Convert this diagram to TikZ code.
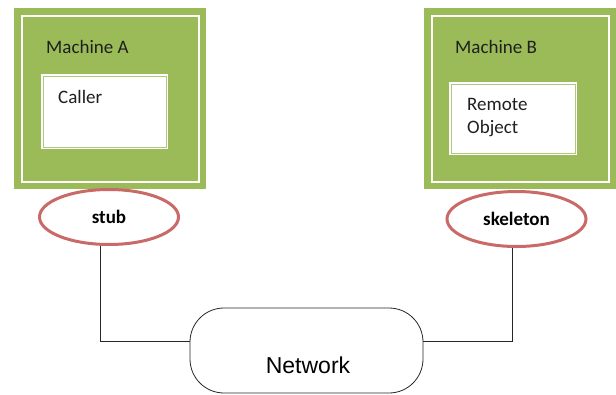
\documentclass[tikz,border=0pt]{standalone}
\usepackage{fontspec}
\setmainfont{Carlito}
\newfontfamily\arialfont{Liberation Sans}
\usetikzlibrary{shapes.geometric}
\definecolor{mgreen}{HTML}{9BBB59}
\definecolor{ered}{HTML}{C0504D}
\begin{document}
\begin{tikzpicture}[x=1pt,y=-1pt,
  machine/.style={fill=mgreen, draw=none, minimum width=192pt, minimum height=181pt, inner sep=0pt, anchor=north west},
  innerbox/.style={fill=white, draw=none, minimum width=127pt, minimum height=75pt, inner sep=0pt, anchor=north west},
  whiteline/.style={draw=white, line width=2pt},
  thinline/.style={draw=mgreen!80!white, line width=0.8pt},
  lbl/.style={font=\fontsize{19}{22}\selectfont, text=black!88, inner sep=0pt, anchor=base west},
  endpt/.style={ellipse, draw=ered!85!white, line width=3pt, fill=white, minimum width=139pt, minimum height=55pt, inner sep=0pt, font=\bfseries\fontsize{19}{22}\selectfont},
  netbox/.style={draw=black!85, line width=0.8pt, rounded corners=34pt, minimum width=233pt, minimum height=85pt, inner sep=0pt},
  netlbl/.style={font=\arialfont\fontsize{23}{26}\selectfont, inner sep=0pt, anchor=base},
  wire/.style={draw=black!85, line width=0.9pt}]
\useasboundingbox (0,0) rectangle (616,394);

% Machine A
\node[machine] (ma) at (14,8) {};
\draw[whiteline] ([xshift=7.5pt,yshift=-7.5pt]ma.north west) rectangle ([xshift=-7.5pt,yshift=7pt]ma.south east);
\node[lbl] (malbl) at (46,53) {Machine A};
\node[innerbox] (caller) at (41,74) {};
\draw[thinline] ([xshift=2.5pt,yshift=-2.5pt]caller.north west) rectangle ([xshift=-2.5pt,yshift=2.5pt]caller.south east);
\node[lbl] (callerlbl) at (58,103) {Caller};

% Machine B
\node[machine] (mb) at (424,8) {};
\draw[whiteline] ([xshift=7.5pt,yshift=-7.5pt]mb.north west) rectangle ([xshift=-7pt,yshift=7pt]mb.south east);
\node[lbl] (mblbl) at (455,53) {Machine B};
\node[innerbox, minimum width=128pt, minimum height=73pt] (remote) at (449,82) {};
\draw[thinline] ([xshift=2.5pt,yshift=-2.5pt]remote.north west) rectangle ([xshift=-2.5pt,yshift=2.5pt]remote.south east);
\node[lbl] (remote1) at (467,110) {Remote};
\node[lbl] (remote2) at (467,133) {Object};

% Network
\node[netbox] (net) at (306.5,350.5) {};
\node[netlbl] (netl) at (308,373) {Network};

% wires
\node[endpt] (stub) at (109,217) {stub};
\node[endpt] (skel) at (516.5,219) {skeleton};
\draw[wire] ([xshift=-9pt]stub.south) |- ([yshift=9.5pt]net.west);
\draw[wire] ([xshift=-4.5pt]skel.south) |- ([yshift=9.5pt]net.east);
\end{tikzpicture}
\end{document}
